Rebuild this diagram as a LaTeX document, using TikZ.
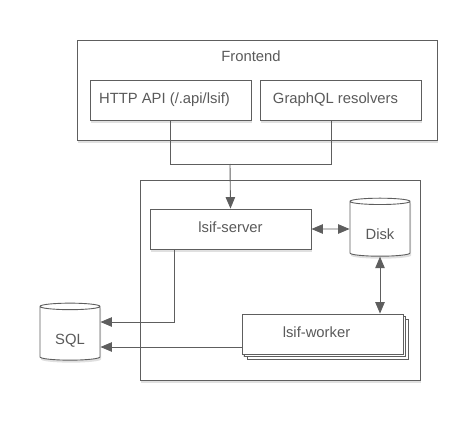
\documentclass[tikz,border=0pt]{standalone}
\usepackage{fontspec}
\setmainfont{Liberation Sans}
\usetikzlibrary{shapes.geometric,shadows,arrows.meta}

\definecolor{linegray}{HTML}{5E5E5E}
\definecolor{textgray}{HTML}{5A5A5A}

\tikzset{
  shade/.style={drop shadow={shadow xshift=1pt,shadow yshift=-2.5pt,opacity=0.12,fill=black}},
  group/.style={draw=linegray,line width=0.9pt,fill=white,shade},
  box/.style={draw=linegray,line width=0.9pt,fill=white,shade,text=textgray,
    minimum width=161pt,minimum height=40pt,inner sep=0pt,font=\fontsize{14.8}{17}\selectfont},
  db/.style={cylinder,shape border rotate=90,aspect=0.22,draw=linegray,line width=0.9pt,
    fill=white,shade,text=textgray,inner sep=0pt,font=\fontsize{14.8}{17}\selectfont},
  wire/.style={draw=linegray,line width=0.9pt},
  tip/.style={-{Triangle[length=11.5pt,width=9.5pt]}},
  tips/.style={{Triangle[length=11.5pt,width=9.5pt]}-{Triangle[length=11.5pt,width=9.5pt]}}
}

\begin{document}
\begin{tikzpicture}[x=1pt,y=-1pt]
  \useasboundingbox (0,0) rectangle (476,420);

  % containers
  \node[group,minimum width=360pt,minimum height=100pt] (frontend) at (257,90) {};
  \node[text=textgray,font=\fontsize{14.8}{17}\selectfont] (frontlabel) at (251,56) {Frontend};
  \node[group,minimum width=280pt,minimum height=200pt] (backend) at (280,280) {};

  % services
  \node[box] (http) at (170.5,100) {\hspace*{-12pt}HTTP API (/.api/lsif)};
  \node[box] (gql) at (340.5,100) {GraphQL resolvers\hspace*{10pt}};
  \node[box] (server) at (230.5,229) {\raisebox{2pt}[\height][\depth]{lsif-server}};
  \node[box,minimum width=161pt,
    double copy shadow={shadow xshift=2.5pt,shadow yshift=-2.5pt,draw=linegray,fill=white}]
    (worker) at (322.5,334) {\raisebox{2pt}[\height][\depth]{lsif-worker}\hspace*{12pt}};

  % stores
  \node[db,minimum width=60pt,minimum height=58pt] (disk) at (380,229) {\raisebox{-5pt}[\height][\depth]{Disk}};
  \node[db,minimum width=60pt,minimum height=57pt] (sql) at (70,333.5) {\raisebox{-7pt}[\height][\depth]{SQL}};

  % connections
  \coordinate (join) at (230,164);
  \draw[wire] (http.south) |- (join);
  \draw[wire] ([xshift=-9.5pt]gql.south) |- (join);
  \draw[wire,tip] (join) -- (server.north);
  \draw[wire,tips] (server.east) -- (disk.west);
  \draw[wire,tips] (disk.south) -- (disk.south |- worker.north);
  \draw[wire,tip] ([xshift=-56.5pt]server.south) |- ([yshift=11.5pt]sql.east);
  \draw[wire,tip] ([yshift=-13pt]worker.west) -- ([yshift=-13pt]worker.west -| sql.east);
\end{tikzpicture}
\end{document}
